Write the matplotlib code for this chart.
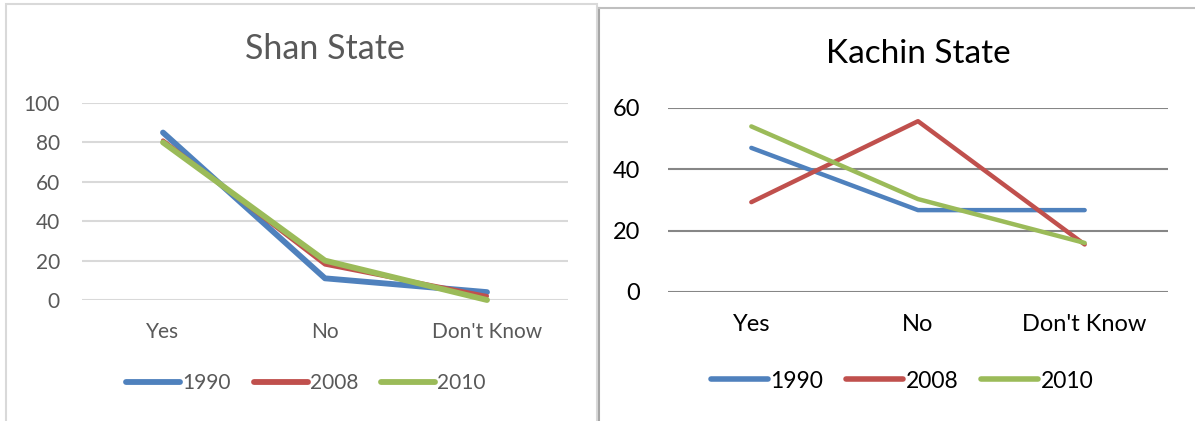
import matplotlib.pyplot as plt
from matplotlib.lines import Line2D
from matplotlib.patches import Rectangle

plt.rcParams['font.family'] = ['Lato', 'DejaVu Sans']

categories = ["Yes", "No", "Don't Know"]
years = ["1990", "2008", "2010"]
colors = ["#4f81bd", "#c0504d", "#9bbb59"]

shan_1990 = [85, 11, 4]
shan_2008 = [81, 18, 2]
shan_2010 = [80, 20, 0]

kachin_1990 = [47, 26.7, 26.7]
kachin_2008 = [29.3, 55.7, 15.5]
kachin_2010 = [54, 30.3, 16]

W, H = 1195, 421
fig = plt.figure(figsize=(W / 100, H / 100), dpi=100)


def px_axes(x0, x1, ytop, ybot):
    return fig.add_axes([x0 / W, (H - ybot) / H, (x1 - x0) / W, (ybot - ytop) / H])


# panel borders
fig.patches.append(Rectangle((6 / W, -0.05), 591 / W, (H - 4) / H + 0.05,
                             transform=fig.transFigure, fill=False,
                             edgecolor="#d9d9d9", lw=1.5))
fig.add_artist(Line2D([599 / W, 599 / W], [0, (H - 8) / H], color="#a6a6a6", lw=1.5,
                      transform=fig.transFigure))
fig.add_artist(Line2D([599 / W, 1], [(H - 8) / H, (H - 8) / H], color="#bfbfbf", lw=1.5,
                      transform=fig.transFigure))


def draw(ax, series, widths, ymax, grid_color, text_color, tick_size, title, title_size, title_y):
    x = range(len(categories))
    for vals, c, lw in zip(series, colors, widths):
        ax.plot(x, vals, color=c, lw=lw, solid_capstyle="round", clip_on=False, zorder=3)
    ax.set_xlim(-0.5, 2.5)
    ax.set_ylim(0, ymax)
    ax.set_yticks(range(0, ymax + 1, 20))
    ax.set_xticks(list(x))
    ax.set_xticklabels(categories)
    ax.grid(axis="y", color=grid_color, lw=1.5)
    ax.set_axisbelow(True)
    for s in ax.spines.values():
        s.set_visible(False)
    ax.tick_params(length=0, labelsize=tick_size, colors=text_color, pad=12)
    ax.tick_params(axis="x", pad=16)
    ax.set_title(title, fontsize=title_size, color=text_color, y=title_y)


ax1 = px_axes(82, 568, 103, 300)
draw(ax1, [shan_1990, shan_2008, shan_2010], [4.2, 3.0, 4.2], 100, "#d9d9d9", "#595959",
     15, "Shan State", 24.5, 1.18)
ax1.tick_params(axis="y", pad=16)

ax2 = px_axes(668, 1168, 108, 292)
draw(ax2, [kachin_1990, kachin_2008, kachin_2010], [3.2, 3.2, 3.2], 60, "#868686", "black",
     17, "Kachin State", 24, 1.2)
ax2.tick_params(axis="y", pad=20)

h1 = [Line2D([], [], color=c, lw=4.2, solid_capstyle="round") for c in colors]
fig.legend(h1, years, loc="center", bbox_to_anchor=(306 / W, (H - 383) / H), ncol=3,
           frameon=False, fontsize=15, handlelength=2.6, handletextpad=0.1,
           columnspacing=1.1, labelcolor="#595959")
h2 = [Line2D([], [], color=c, lw=4, solid_capstyle="round") for c in colors]
fig.legend(h2, years, loc="center", bbox_to_anchor=(902 / W, (H - 381) / H), ncol=3,
           frameon=False, fontsize=16.5, handlelength=2.5, handletextpad=0.1,
           columnspacing=1.0, labelcolor="black")

fig.savefig("out.png", dpi=100)
